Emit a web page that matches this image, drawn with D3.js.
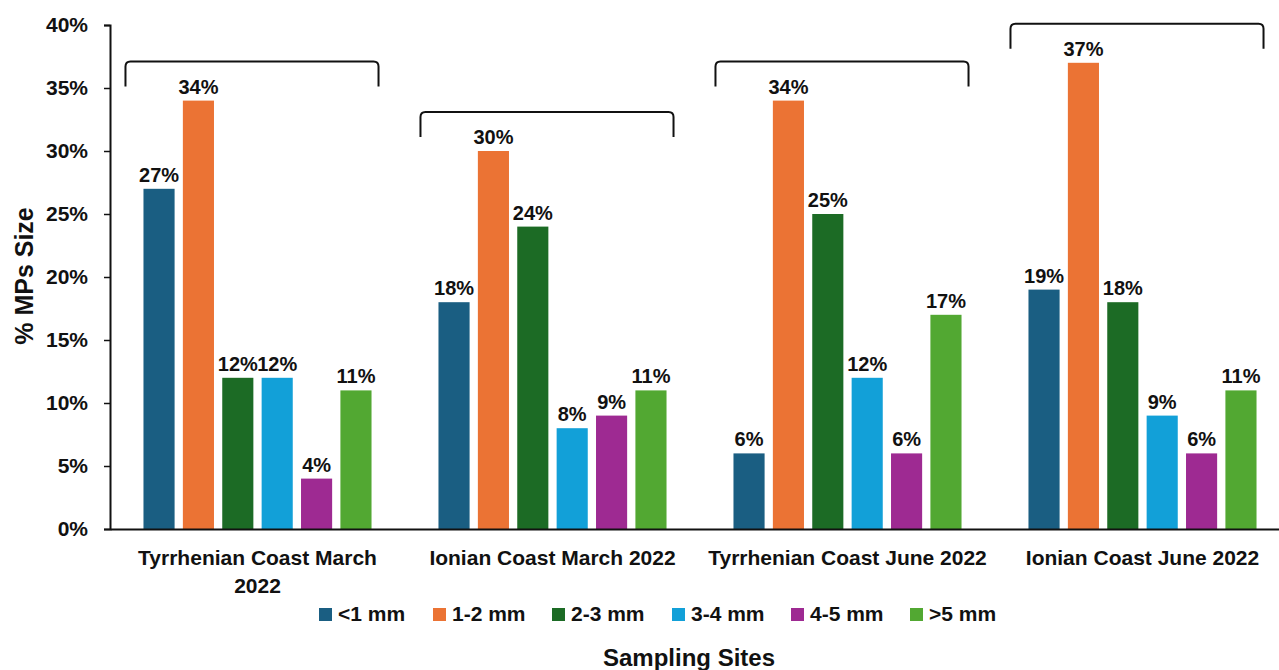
<!DOCTYPE html>
<html><head><meta charset="utf-8">
<script src="https://cdn.jsdelivr.net/npm/d3@7"></script>
<style>
html,body{margin:0;padding:0;background:#fff;}
text{font-family:"Liberation Sans",Arial,sans-serif;font-weight:bold;fill:#111;}
</style></head>
<body><svg id="c" width="1279" height="670"></svg>
<script>
const categories = ["Tyrrhenian Coast March 2022","Ionian Coast March 2022","Tyrrhenian Coast June 2022","Ionian Coast June 2022"];
const seriesNames = ["<1 mm","1-2 mm","2-3 mm","3-4 mm","4-5 mm",">5 mm"];
const seriesColors = ["#1a5e82","#eb7334","#1c6b25","#12a0d8","#9e2a92","#52a832"];
const lt1 = [27,18,6,19];
const s12 = [34,30,34,37];
const s23 = [12,24,25,18];
const s34 = [12,8,12,9];
const s45 = [4,9,6,6];
const gt5 = [11,11,17,11];
const yTicks = [0,5,10,15,20,25,30,35,40];
const seriesValues = [lt1,s12,s23,s34,s45,gt5];

const svg = d3.select("#c");
const m = {l:110, t:25, b:529, r:1290};
const x = d3.scaleBand().domain(categories).range([m.l, m.r]).paddingInner(0).paddingOuter(0);
const xs = d3.scaleBand().domain(seriesNames).range([0, x.bandwidth()]).paddingInner(0.21).paddingOuter(0.85);
const y = d3.scaleLinear().domain([0,40]).range([m.b, m.t]);

// y axis
const ya = svg.append("g").attr("transform",`translate(${m.l},0)`)
  .call(d3.axisLeft(y).tickValues(yTicks).tickFormat(d=>d+"%").tickSize(6).tickPadding(16));
ya.select(".domain").attr("stroke","#111").attr("stroke-width",2);
ya.selectAll(".tick line").attr("stroke","#111").attr("stroke-width",1.5);
ya.selectAll(".tick text").style("font-size","21px").attr("fill","#111");

// bars
const rows = [];
categories.forEach((c,i)=>seriesNames.forEach((s,j)=>rows.push({c,s,j,v:seriesValues[j][i]})));
const g = svg.append("g");
g.selectAll("rect").data(rows).join("rect")
  .attr("x",d=>x(d.c)+xs(d.s)).attr("width",xs.bandwidth())
  .attr("y",d=>y(d.v)).attr("height",d=>y(0)-y(d.v))
  .attr("fill",d=>seriesColors[d.j]);
g.selectAll("text").data(rows).join("text")
  .attr("x",d=>x(d.c)+xs(d.s)+xs.bandwidth()/2).attr("y",d=>y(d.v)-7)
  .attr("text-anchor","middle").style("font-size","20px").text(d=>d.v+"%");

// brackets
categories.forEach((c,i)=>{
  const mx = d3.max(seriesValues, s=>s[i]);
  const x0 = x(c)+xs(seriesNames[0])-18;
  const x1 = x(c)+xs(seriesNames[5])+xs.bandwidth()+7;
  const yt = y(mx)-39, yb = yt+25, r=5;
  svg.append("path").attr("fill","none").attr("stroke","#111").attr("stroke-width",2)
    .attr("d",`M${x0},${yb} L${x0},${yt+r} Q${x0},${yt} ${x0+r},${yt} L${x1-r},${yt} Q${x1},${yt} ${x1},${yt+r} L${x1},${yb}`);
});

// x axis
const xa = svg.append("g").attr("transform",`translate(0,${m.b})`)
  .call(d3.axisBottom(x).tickSize(0).tickPadding(0));
xa.select(".domain").attr("stroke","#111").attr("stroke-width",2);
xa.selectAll(".tick text").remove();
xa.selectAll(".tick").each(function(d){
  const t = d3.select(this).append("text").attr("text-anchor","middle").style("font-size","21px").attr("y",36);
  const words = d.split(" ");
  let line=[], lines=[];
  const tmp = t.append("tspan");
  words.forEach(w=>{
    line.push(w); tmp.text(line.join(" "));
    if (tmp.node().getComputedTextLength() > 285 && line.length>1){ line.pop(); lines.push(line.join(" ")); line=[w]; }
  });
  lines.push(line.join(" "));
  tmp.remove();
  lines.forEach((l,k)=>t.append("tspan").attr("x",0).attr("dy",k?28:0).text(l));
});

// legend
const legX = [319,433,552,672,791,910];
const lg = svg.append("g");
seriesNames.forEach((s,j)=>{
  lg.append("rect").attr("x",legX[j]).attr("y",608).attr("width",13).attr("height",13).attr("fill",seriesColors[j]);
  lg.append("text").attr("x",legX[j]+19).attr("y",621).style("font-size","21px").text(s);
});

// axis titles
svg.append("text").attr("transform","translate(33,276) rotate(-90)").attr("text-anchor","middle").style("font-size","25px").text("% MPs Size");
svg.append("text").attr("x",689).attr("y",666).attr("text-anchor","middle").style("font-size","24px").text("Sampling Sites");
</script></body></html>
